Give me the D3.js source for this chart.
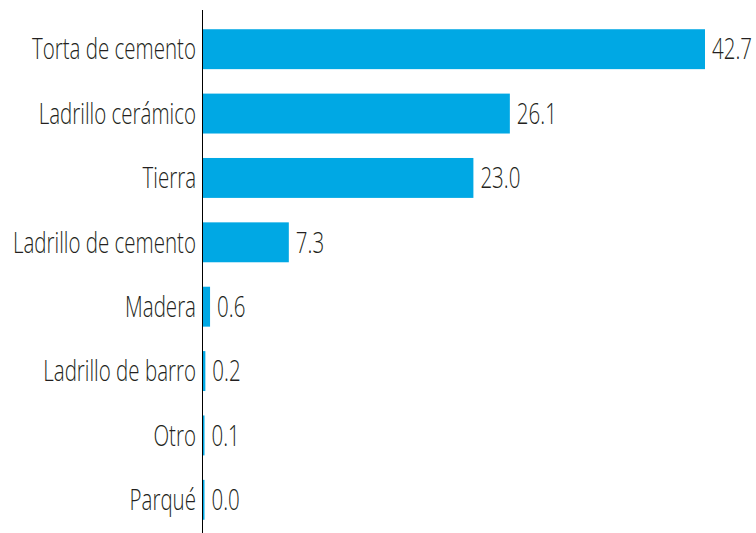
<!DOCTYPE html>
<html>
<head>
<meta charset="utf-8">
<script src="https://cdn.jsdelivr.net/npm/d3@7"></script>
<style>
  body { margin: 0; background: #fff; }
  text { font-family: "Open Sans", "Liberation Sans", sans-serif; font-weight: 300; fill: #231f20; }
</style>
</head>
<body>
<div class="chart"></div>
<script>
const FRAME_WIDTH = 756;
const FRAME_HEIGHT = 533;
const AXIS_X = 203;
const SQUEEZE = 0.72; // condensed look

const CATEGORIES = ["Torta de cemento", "Ladrillo cerámico", "Tierra", "Ladrillo de cemento",
                    "Madera", "Ladrillo de barro", "Otro", "Parqué"];
const VALUES = [42.7, 26.1, 23.0, 7.3, 0.6, 0.2, 0.1, 0.0];

const svg = d3.select(".chart")
    .append("svg")
    .attr("width", FRAME_WIDTH)
    .attr("height", FRAME_HEIGHT);

const X_SCALE = d3.scaleLinear()
    .domain([0, 42.7])
    .range([AXIS_X, 705]);

const Y_SCALE = d3.scaleBand()
    .domain(CATEGORIES)
    .range([17, 532])
    .paddingInner(0.38)
    .paddingOuter(0.19);

const data = CATEGORIES.map((c, i) => ({cat: c, val: VALUES[i]}));

svg.selectAll("rect.bar")
    .data(data)
    .enter()
    .append("rect")
        .attr("class", "bar")
        .attr("x", X_SCALE(0))
        .attr("y", d => Y_SCALE(d.cat))
        .attr("width", d => Math.max(X_SCALE(d.val) - X_SCALE(0), 1.5))
        .attr("height", Y_SCALE.bandwidth())
        .attr("fill", "#00a8e4");

// category labels
svg.selectAll("text.cat")
    .data(data)
    .enter()
    .append("text")
        .attr("class", "cat")
        .attr("transform", d => "translate(" + (AXIS_X - 7) + "," + (Y_SCALE(d.cat) + Y_SCALE.bandwidth() / 2) + ") scale(" + SQUEEZE + ",1)")
        .attr("text-anchor", "end")
        .attr("dy", "0.36em")
        .attr("font-size", 28.5)
        .text(d => d.cat);

// value labels
svg.selectAll("text.val")
    .data(data)
    .enter()
    .append("text")
        .attr("class", "val")
        .attr("transform", d => "translate(" + (Math.max(X_SCALE(d.val), X_SCALE(0) + 1.5) + 7) + "," + (Y_SCALE(d.cat) + Y_SCALE.bandwidth() / 2) + ") scale(" + SQUEEZE + ",1)")
        .attr("dy", "0.36em")
        .attr("font-size", 28.5)
        .text(d => d.val.toFixed(1));

// vertical axis line
svg.append("line")
    .attr("x1", AXIS_X - 0.5)
    .attr("x2", AXIS_X - 0.5)
    .attr("y1", 10)
    .attr("y2", FRAME_HEIGHT)
    .attr("stroke", "#000")
    .attr("stroke-width", 1);
</script>
</body>
</html>
